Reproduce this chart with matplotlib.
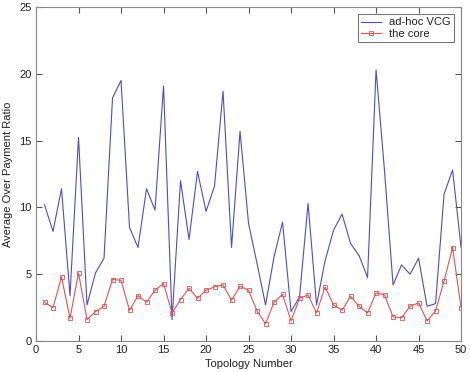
import matplotlib
matplotlib.use("Agg")
import matplotlib.pyplot as plt
import numpy as np

plt.rcParams['font.family'] = ['Liberation Sans', 'DejaVu Sans']

topology = np.arange(1, 51)

adhoc_vcg = [10.2, 8.2, 11.4, 3.4, 15.25, 2.7, 5.1, 6.2, 18.2, 19.5,
             8.5, 7.0, 11.4, 9.8, 19.1, 1.6, 12.0, 7.6, 12.7, 9.7,
             11.6, 18.7, 7.0, 15.7, 8.8, 5.8, 2.7, 6.3, 8.9, 2.2,
             3.3, 10.3, 2.7, 6.0, 8.3, 9.5, 7.3, 6.4, 4.75, 20.3,
             12.7, 4.2, 5.7, 5.0, 6.2, 2.6, 2.8, 11.0, 12.8, 7.0]

the_core = [2.9, 2.5, 4.8, 1.7, 5.1, 1.6, 2.2, 2.6, 4.6, 4.55,
            2.3, 3.4, 2.9, 3.8, 4.3, 2.1, 3.1, 3.95, 3.2, 3.8,
            4.05, 4.2, 3.05, 4.1, 3.8, 2.25, 1.3, 2.9, 3.5, 1.5,
            3.2, 3.45, 2.1, 4.05, 2.7, 2.3, 3.35, 2.6, 2.1, 3.6,
            3.45, 1.8, 1.75, 2.6, 2.85, 1.5, 2.25, 4.5, 7.0, 2.5]

fig = plt.figure(figsize=(4.7, 3.72), dpi=100)
ax = fig.add_axes([0.0766, 0.0833, 0.9044, 0.8977])

ax.plot(topology, adhoc_vcg, color='#4c4cd6', linewidth=0.8, label='ad-hoc VCG')
ax.plot(topology, the_core, color='#e85050', linewidth=0.8, marker='s',
        markersize=2.5, markerfacecolor='none', markeredgewidth=0.6, label='the core')

ax.set_xlim(0, 50)
ax.set_ylim(0, 25)
ax.set_xticks(np.arange(0, 51, 5))
ax.set_yticks(np.arange(0, 26, 5))
ax.tick_params(direction='in', top=True, right=True, labelsize=8, length=4,
               color='#555555', pad=3, labelcolor='#222222')
for spine in ax.spines.values():
    spine.set_color('#888888')
    spine.set_linewidth(0.8)

ax.set_xlabel('Topology Number', fontsize=8, labelpad=3, color='#222222')
ax.set_ylabel('Average Over Payment Ratio', fontsize=8, labelpad=5, color='#222222')

leg = ax.legend(loc='upper right', fontsize=8, fancybox=False, handlelength=1.8,
                borderpad=0.3, labelspacing=0.1, handletextpad=0.7,
                borderaxespad=0, bbox_to_anchor=(0.9835, 0.979))
leg.get_frame().set_edgecolor('#555555')
leg.get_frame().set_linewidth(0.8)
for t in leg.get_texts():
    t.set_color('#222222')

fig.savefig('out.png', dpi=100)
